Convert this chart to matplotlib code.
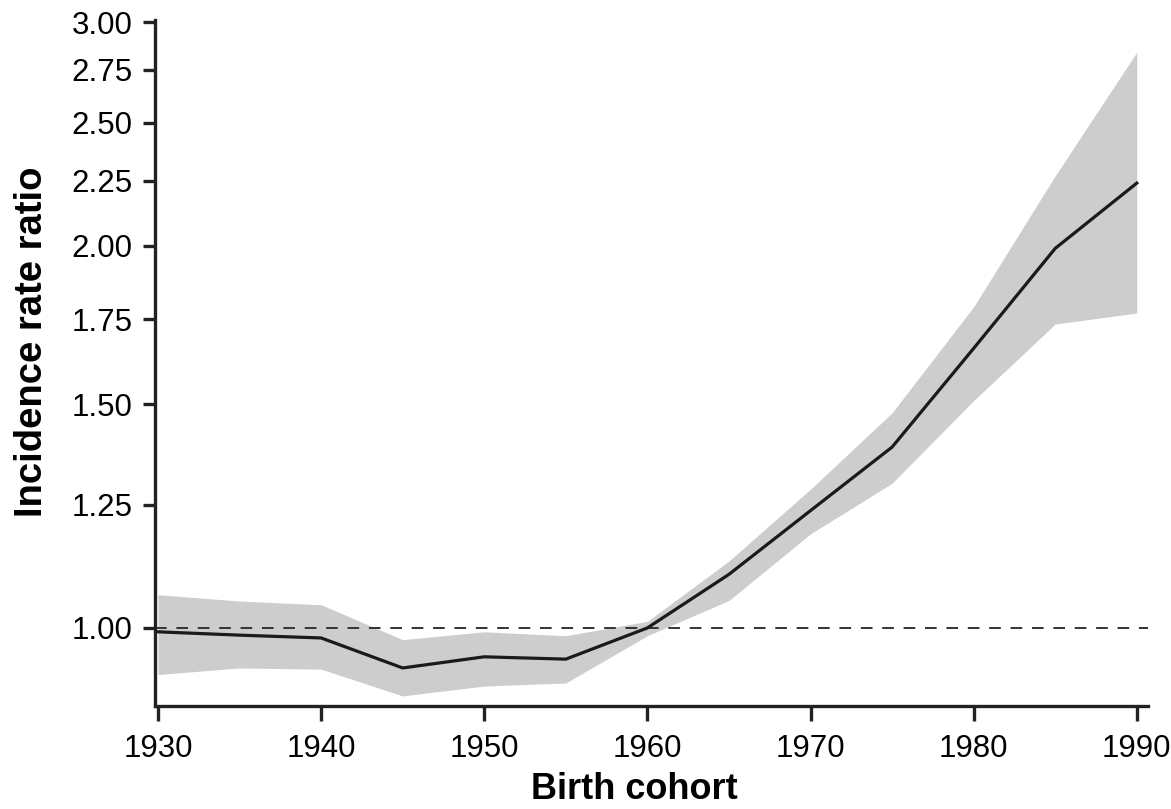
import matplotlib
matplotlib.use("Agg")
import matplotlib.pyplot as plt
from matplotlib.ticker import FixedLocator, NullLocator, FormatStrFormatter

plt.rcParams['font.family'] = ['Liberation Sans', 'DejaVu Sans']

# Birth cohort data
cohort = [1930, 1935, 1940, 1945, 1950, 1955, 1960, 1965, 1970, 1975, 1980, 1985, 1990]
irr = [0.993, 0.987, 0.982, 0.930, 0.949, 0.945, 1.000, 1.102, 1.237, 1.388, 1.66, 1.99, 2.24]
ci_low = [0.919, 0.930, 0.928, 0.884, 0.900, 0.905, 0.986, 1.051, 1.186, 1.300, 1.51, 1.735, 1.77]
ci_high = [1.062, 1.050, 1.043, 0.979, 0.993, 0.986, 1.012, 1.129, 1.286, 1.477, 1.79, 2.27, 2.84]

y_ticks = [1.00, 1.25, 1.50, 1.75, 2.00, 2.25, 2.50, 2.75, 3.00]
x_ticks = [1930, 1940, 1950, 1960, 1970, 1980, 1990]

fig = plt.figure(figsize=(11.71, 8.09), dpi=100)
ax = fig.add_axes([0.1324, 0.1273, 0.8477, 0.8480])

ax.fill_between(cohort, ci_low, ci_high, color='#cdcdcd', linewidth=0, zorder=1)
ax.plot(cohort, irr, color='#1a1a1a', linewidth=2.3, zorder=3)
ax.axhline(1.0, color='#333333', linewidth=1.4, linestyle=(0, (6, 5)), zorder=2)

ax.set_yscale('log')
ax.set_ylim(0.868, 3.011)
ax.set_xlim(1929.82, 1990.67)

ax.yaxis.set_major_locator(FixedLocator(y_ticks))
ax.yaxis.set_major_formatter(FormatStrFormatter('%.2f'))
ax.yaxis.set_minor_locator(NullLocator())
ax.set_xticks(x_ticks)

for s in ['top', 'right']:
    ax.spines[s].set_visible(False)
for s in ['left', 'bottom']:
    ax.spines[s].set_linewidth(2.4)
    ax.spines[s].set_color('#222222')

ax.tick_params(axis='y', length=9, width=2.4, color='#222222', labelsize=22.5, pad=7)
ax.tick_params(axis='x', length=11, width=2.4, color='#222222', labelsize=22.5, pad=9)

ax.set_xlabel('Birth cohort', fontsize=26, fontweight='bold')
ax.set_ylabel('Incidence rate ratio', fontsize=27.5, fontweight='bold')
ax.xaxis.label.set_va('bottom')
ax.yaxis.label.set_va('baseline')

# put the labels where the reference has them (pixels -> axes fraction)
ax.xaxis.set_label_coords(0.483, -(807 - 706) / 686)
ax.yaxis.set_label_coords(-(155 - 42) / 993, 0.531)

plt.savefig('out.png', dpi=100)
